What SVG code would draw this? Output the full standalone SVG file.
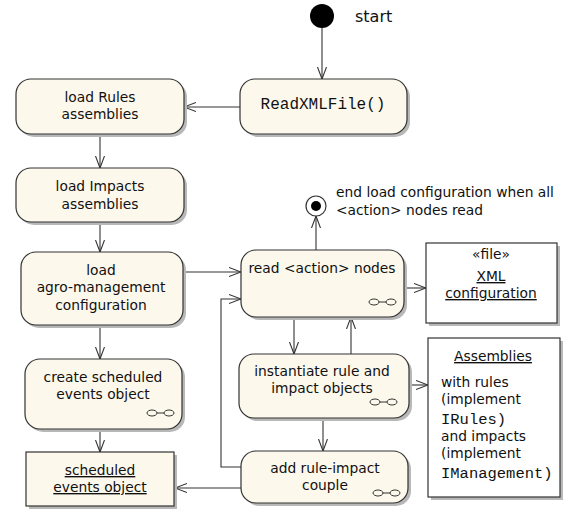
<svg xmlns="http://www.w3.org/2000/svg" width="564" height="509" viewBox="0 0 564 509">
<style>
.act{fill:#fdf8ec;stroke:#333;stroke-width:1.2}
.obj{stroke:#333;stroke-width:1.2}
.sh{fill:#b8b8b8}
.t{font-family:"DejaVu Sans",Verdana,sans-serif;font-size:13.8px;fill:#111;text-anchor:middle}
.tl{font-family:"DejaVu Sans",Verdana,sans-serif;font-size:13.8px;fill:#111}
.m{font-family:"Liberation Mono","Courier New",monospace;font-size:15.5px;fill:#111}
.u{text-decoration:underline}
.c{fill:none;stroke:#333;stroke-width:1.1}
.ic{fill:none;stroke:#333;stroke-width:1}
</style>
<defs>
<marker id="arr" viewBox="0 0 12 10" refX="12" refY="5" markerWidth="12" markerHeight="10" orient="auto" markerUnits="userSpaceOnUse">
<path d="M0,0.5 L12,5 L0,9.5" fill="none" stroke="#333" stroke-width="1.1"/>
</marker>
<g id="sub">
<ellipse cx="5" cy="0" rx="5" ry="3" class="ic"/>
<line x1="10" y1="0" x2="17" y2="0" class="ic"/>
<ellipse cx="22" cy="0" rx="5" ry="3" class="ic"/>
</g>
</defs>

<g id="connectors">
<line class="c" x1="322" y1="28" x2="322" y2="79" marker-end="url(#arr)"/>
<line class="c" x1="240" y1="107" x2="184" y2="107" marker-end="url(#arr)"/>
<line class="c" x1="100" y1="134" x2="100" y2="168" marker-end="url(#arr)"/>
<line class="c" x1="100" y1="222" x2="100" y2="252" marker-end="url(#arr)"/>
<line class="c" x1="183" y1="272" x2="241" y2="272" marker-end="url(#arr)"/>
<line class="c" x1="100" y1="325" x2="100" y2="359" marker-end="url(#arr)"/>
<line class="c" x1="100" y1="429" x2="100" y2="452" marker-end="url(#arr)"/>
<line class="c" x1="316" y1="250" x2="316" y2="216" marker-end="url(#arr)"/>
<line class="c" x1="404" y1="288" x2="426" y2="288" marker-end="url(#arr)"/>
<line class="c" x1="294" y1="317" x2="294" y2="354" marker-end="url(#arr)"/>
<line class="c" x1="351" y1="354" x2="351" y2="317" marker-end="url(#arr)"/>
<line class="c" x1="409" y1="385" x2="428" y2="385" marker-end="url(#arr)"/>
<line class="c" x1="323" y1="418" x2="323" y2="451" marker-end="url(#arr)"/>
<line class="c" x1="241" y1="488" x2="175" y2="488" marker-end="url(#arr)"/>
<polyline class="c" points="241,467 221,467 221,299 241,299" marker-end="url(#arr)"/>
</g>

<g id="start">
<circle cx="322" cy="16" r="12" fill="#000"/>
<text x="355" y="21.5" class="tl" style="font-size:16px">start</text>
</g>

<g id="end">
<circle cx="316" cy="206" r="10" fill="#fff" stroke="#333" stroke-width="1.2"/>
<circle cx="316" cy="206" r="5" fill="#000"/>
<text x="336" y="197" class="tl">end load configuration when all</text>
<text x="336" y="215" class="tl">&lt;action&gt; nodes read</text>
</g>

<g id="readxml">
<rect class="sh" x="243" y="82" width="167" height="55" rx="15"/>
<rect class="act" x="240" y="79" width="167" height="55" rx="15"/>
<text x="323" y="109" class="m" text-anchor="middle" style="font-size:16px">ReadXMLFile()</text>
</g>

<g id="loadrules">
<rect class="sh" x="19" y="82" width="168" height="55" rx="15"/>
<rect class="act" x="16" y="79" width="168" height="55" rx="15"/>
<text x="100" y="102" class="t">load Rules</text>
<text x="100" y="119" class="t">assemblies</text>
</g>

<g id="loadimpacts">
<rect class="sh" x="19" y="171" width="168" height="54" rx="15"/>
<rect class="act" x="16" y="168" width="168" height="54" rx="15"/>
<text x="100" y="191" class="t">load Impacts</text>
<text x="100" y="209" class="t">assemblies</text>
</g>

<g id="loadagro">
<rect class="sh" x="24" y="255" width="162" height="73" rx="15"/>
<rect class="act" x="21" y="252" width="162" height="73" rx="15"/>
<text x="101" y="275" class="t">load</text>
<text x="101" y="292" class="t">agro-management</text>
<text x="101" y="310" class="t">configuration</text>
</g>

<g id="createsched">
<rect class="sh" x="28" y="362" width="157" height="70" rx="15"/>
<rect class="act" x="25" y="359" width="157" height="70" rx="15"/>
<text x="103" y="382" class="t">create scheduled</text>
<text x="103" y="399" class="t">events object</text>
<use href="#sub" x="147" y="413"/>
</g>

<g id="schedobj">
<rect class="sh" x="29" y="455" width="148" height="54"/>
<rect class="obj" x="26" y="452" width="148" height="54" fill="#fdf8ec"/>
<text x="100" y="475" class="t u">scheduled </text>
<text x="100" y="492" class="t u">events object</text>
</g>

<g id="readaction">
<rect class="sh" x="244" y="253" width="163" height="67" rx="15"/>
<rect class="act" x="241" y="250" width="163" height="67" rx="15"/>
<text x="322" y="273" class="t">read &lt;action&gt; nodes</text>
<use href="#sub" x="369" y="302"/>
</g>

<g id="xmlconfig">
<rect class="sh" x="429" y="246" width="131" height="80"/>
<rect class="obj" x="426" y="243" width="131" height="80" fill="#fff"/>
<text x="491" y="259" class="t">«file»</text>
<text x="491" y="281" class="t u">XML </text>
<text x="491" y="298" class="t u">configuration</text>
</g>

<g id="instantiate">
<rect class="sh" x="242" y="357" width="170" height="64" rx="15"/>
<rect class="act" x="239" y="354" width="170" height="64" rx="15"/>
<text x="322" y="376" class="t">instantiate rule and</text>
<text x="322" y="393" class="t">impact objects</text>
<use href="#sub" x="370" y="402"/>
</g>

<g id="assemblies">
<rect class="sh" x="431" y="341" width="132" height="159"/>
<rect class="obj" x="428" y="338" width="132" height="159" fill="#fff"/>
<text x="493" y="361" class="t u">Assemblies</text>
<text x="441" y="387" class="tl">with rules</text>
<text x="441" y="404" class="tl">(implement</text>
<text x="441" y="424" class="m">IRules)</text>
<text x="441" y="441" class="tl">and impacts</text>
<text x="441" y="458" class="tl">(implement</text>
<text x="441" y="478" class="m">IManagement)</text>
</g>

<g id="addcouple">
<rect class="sh" x="244" y="454" width="167" height="52" rx="15"/>
<rect class="act" x="241" y="451" width="167" height="52" rx="15"/>
<text x="325" y="473" class="t">add rule-impact</text>
<text x="325" y="490" class="t">couple</text>
<use href="#sub" x="373" y="493"/>
</g>
</svg>
